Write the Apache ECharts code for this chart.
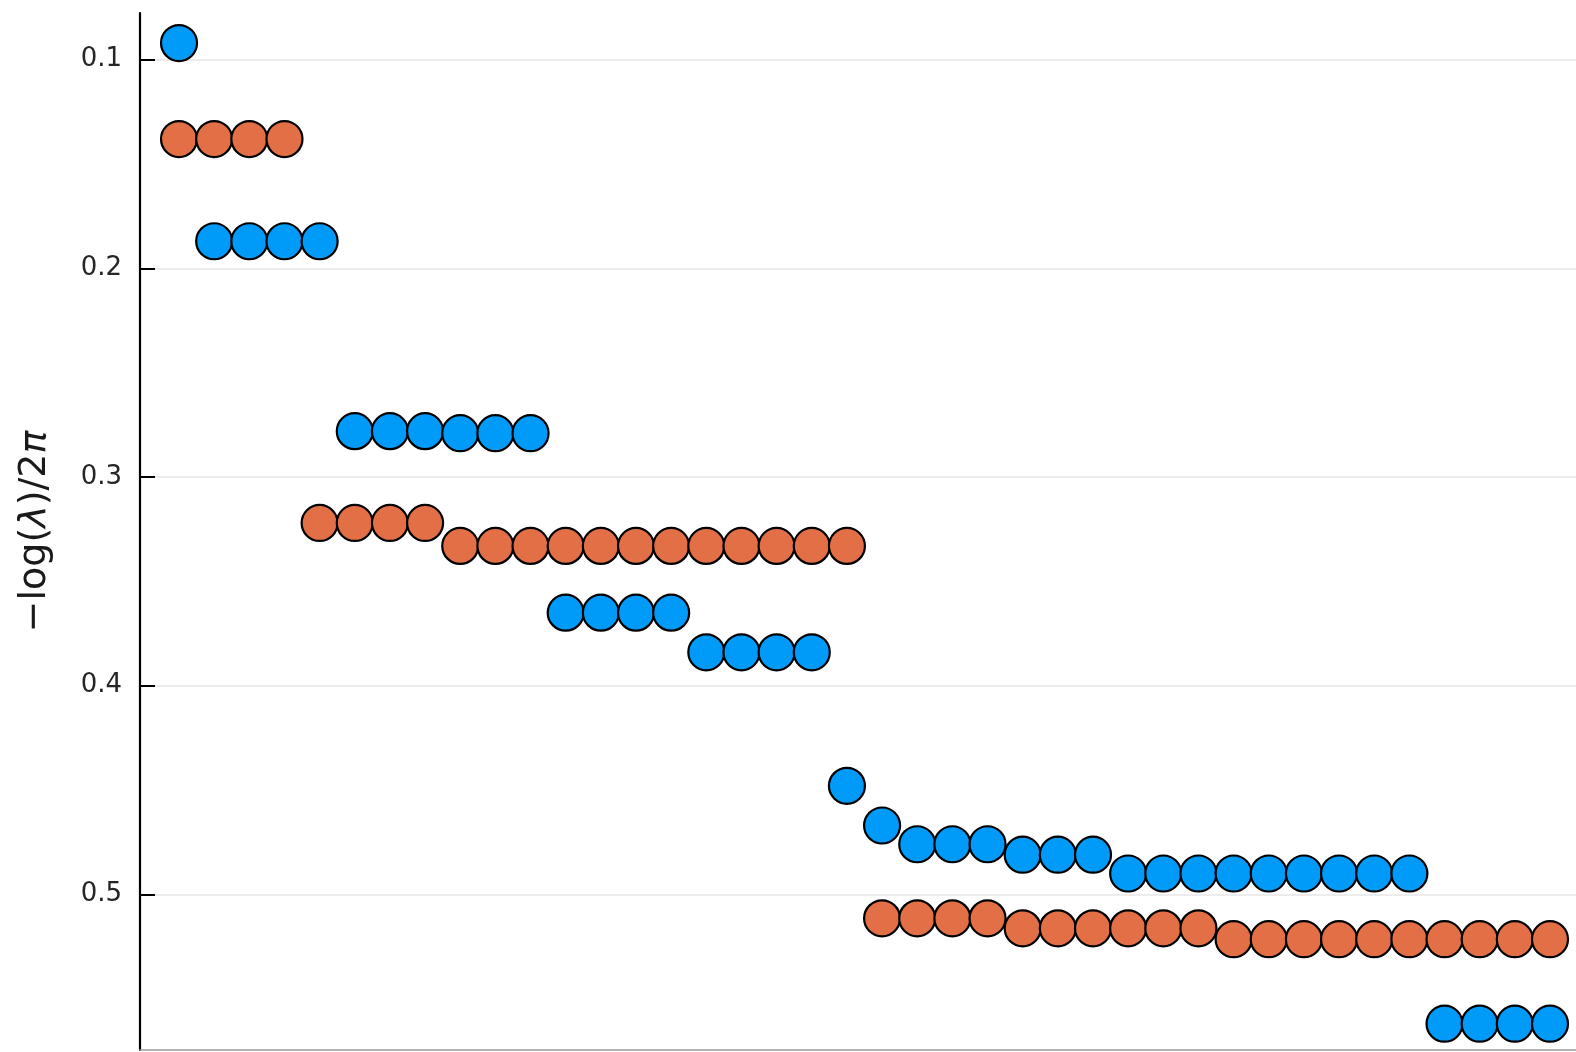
<!DOCTYPE html>
<html>
<head>
<meta charset="utf-8">
<style>
  html, body { margin: 0; padding: 0; background: #ffffff; }
  #chart { width: 1576px; height: 1052px; }
</style>
<script src="https://cdn.jsdelivr.net/npm/echarts@6/dist/echarts.min.js"></script>
</head>
<body>
<div id="chart"></div>
<script>
// Level index along the horizontal axis (one blue and one orange level per index)
const levelIndex = Array.from({ length: 40 }, (_, i) => i + 1);

// Scaled levels -log(λ)/2π, sector A (blue)
const sectorA = [
  0.092,
  0.187, 0.187, 0.187, 0.187,
  0.278, 0.278, 0.278, 0.279, 0.279, 0.279,
  0.365, 0.365, 0.365, 0.365,
  0.384, 0.384, 0.384, 0.384,
  0.448,
  0.467,
  0.476, 0.476, 0.476,
  0.481, 0.481, 0.481,
  0.490, 0.490, 0.490, 0.490, 0.490, 0.490, 0.490, 0.490, 0.490,
  0.562, 0.562, 0.562, 0.562
];

// Scaled levels -log(λ)/2π, sector B (orange)
const sectorB = [
  0.138, 0.138, 0.138, 0.138,
  0.322, 0.322, 0.322, 0.322,
  0.333, 0.333, 0.333, 0.333, 0.333, 0.333, 0.333, 0.333, 0.333, 0.333, 0.333, 0.333,
  0.5115, 0.5115, 0.5115, 0.5115,
  0.5163, 0.5163, 0.5163, 0.5163, 0.5163, 0.5163,
  0.5215, 0.5215, 0.5215, 0.5215, 0.5215, 0.5215, 0.5215, 0.5215, 0.5215, 0.5215
];

// Labelled ticks on the vertical axis
const yTicks = [0.1, 0.2, 0.3, 0.4, 0.5];

const pairs = (xs, ys) => xs.map((x, i) => [x, ys[i]]);

const markerStyle = (color) => ({
  color: color,
  borderColor: '#000000',
  borderWidth: 2.2,
  opacity: 1
});

const chart = echarts.init(document.getElementById('chart'), null, { renderer: 'canvas' });

chart.setOption({
  backgroundColor: '#ffffff',
  animation: false,
  textStyle: { fontFamily: 'DejaVu Sans' },
  grid: { left: 140, right: 0, top: 13, bottom: 2, containLabel: false },
  xAxis: {
    type: 'value',
    min: -0.11,
    max: 40.74,
    axisLine: { show: true, lineStyle: { color: '#9a9a9a', width: 1.5 } },
    axisTick: { show: false },
    axisLabel: { show: false },
    splitLine: { show: false }
  },
  yAxis: {
    type: 'value',
    inverse: true,
    min: 0.0776,
    max: 0.5746,
    // axis title with italic lambda and pi
    name: '{n|\u2212log(}{i|\u03bb}{n|)/2}{i|\u03c0}',
    nameLocation: 'middle',
    nameGap: 86,
    nameRotate: 90,
    nameTextStyle: {
      fontSize: 38,
      color: '#1a1a1a',
      fontFamily: 'DejaVu Sans',
      rich: {
        n: { fontSize: 38, color: '#1a1a1a', fontFamily: 'DejaVu Sans' },
        i: { fontSize: 38, color: '#1a1a1a', fontFamily: 'DejaVu Sans', fontStyle: 'italic' }
      }
    },
    axisLine: { show: true, onZero: false, lineStyle: { color: '#000000', width: 2.2 } },
    axisTick: {
      show: true,
      inside: true,
      length: 15,
      customValues: yTicks,
      lineStyle: { color: '#000000', width: 2 }
    },
    axisLabel: {
      show: true,
      customValues: yTicks,
      margin: 18,
      fontSize: 26,
      color: '#262626',
      fontFamily: 'DejaVu Sans',
      formatter: (v) => v.toFixed(1)
    },
    splitLine: { show: true, lineStyle: { color: '#e6e6e6', width: 1.5 } }
  },
  series: [
    {
      type: 'scatter',
      name: 'A',
      symbol: 'circle',
      symbolSize: 36,
      data: pairs(levelIndex, sectorA),
      itemStyle: markerStyle('#009af9'),
      z: 3
    },
    {
      type: 'scatter',
      name: 'B',
      symbol: 'circle',
      symbolSize: 36,
      data: pairs(levelIndex, sectorB),
      itemStyle: markerStyle('#e26f46'),
      z: 3
    }
  ]
});
</script>
</body>
</html>
